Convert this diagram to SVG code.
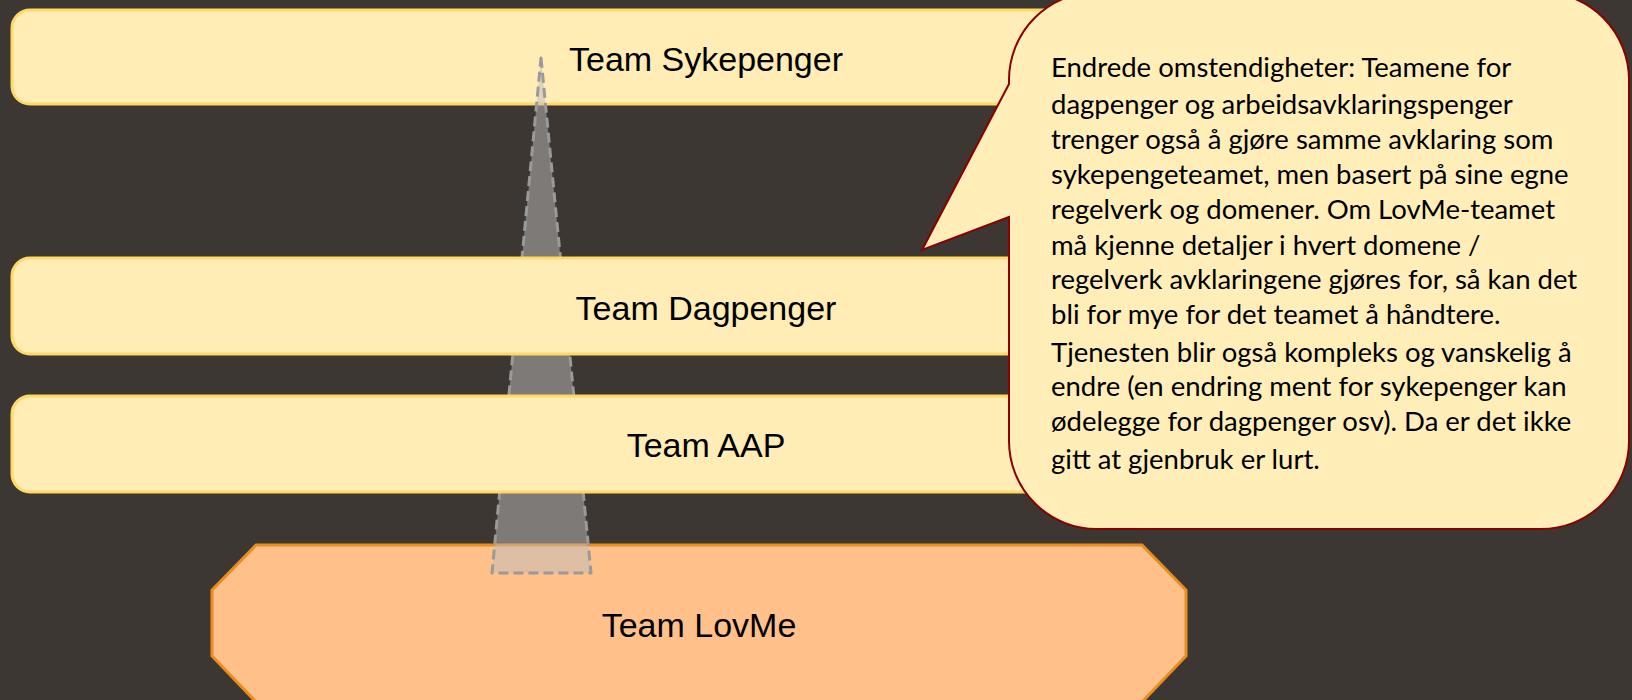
<svg xmlns="http://www.w3.org/2000/svg" width="1632" height="700" viewBox="0 0 1632 700">
  <style>
    .bar { fill: #FFEDB5; stroke: #FFD966; stroke-width: 3; }
    .core { fill: #FFC08A; stroke: #E88D1E; stroke-width: 3; }
    .label { font-family: "Liberation Sans", Arial, sans-serif; font-size: 34px; fill: #000; text-anchor: middle; }
    .reach { fill: #BDBDBD; fill-opacity: 0.5; stroke: #9A9A9A; stroke-width: 3; stroke-dasharray: 10 5; stroke-linejoin: round; }
    .bubble { fill: #FFEEB8; stroke: #8B0000; stroke-width: 2; }
    .note { font-family: Lato, "Open Sans", sans-serif; font-size: 27.5px; fill: #000; }
  </style>

  <rect width="1632" height="700" fill="#3C3732"/>

  <!-- top team, drawn below the reuse wedge -->
  <g id="team-sykepenger">
    <rect class="bar" x="12" y="10" width="1400" height="94" rx="18"/>
    <text class="label" x="706" y="71">Team Sykepenger</text>
  </g>

  <!-- shared rule service at the bottom -->
  <g id="team-lovme">
    <polygon class="core" points="256,545 1142,545 1186,590 1186,656 1142,702 256,702 212,656 212,590"/>
    <text class="label" x="699" y="637">Team LovMe</text>
  </g>

  <!-- reuse wedge from LovMe up to Sykepenger -->
  <g id="connectors">
    <polygon class="reach" points="541,58 591,573 492,573"/>
  </g>

  <g id="team-dagpenger">
    <rect class="bar" x="12" y="258" width="1400" height="96" rx="18"/>
    <text class="label" x="706" y="320">Team Dagpenger</text>
  </g>

  <g id="team-aap">
    <rect class="bar" x="12" y="396" width="1400" height="96" rx="18"/>
    <text class="label" x="706" y="457">Team AAP</text>
  </g>

  <!-- speech bubble with the note -->
  <g id="callout">
    <path class="bubble" d="M1009,84 L922,250 L1009,217 L1009,441 A88,88 0 0 0 1097,529 L1541,529 A88,88 0 0 0 1629,441 L1629,80 A88,88 0 0 0 1541,-8 L1097,-8 A88,88 0 0 0 1009,80 Z"/>
    <text class="note" x="1051">
      <tspan x="1051" y="77">Endrede omstendigheter: Teamene for</tspan>
      <tspan x="1051" y="114">dagpenger og arbeidsavklaringspenger</tspan>
      <tspan x="1051" y="149">trenger også å gjøre samme avklaring som</tspan>
      <tspan x="1051" y="184">sykepengeteamet, men basert på sine egne</tspan>
      <tspan x="1051" y="219">regelverk og domener. Om LovMe-teamet</tspan>
      <tspan x="1051" y="255">må kjenne detaljer i hvert domene /</tspan>
      <tspan x="1051" y="289">regelverk avklaringene gjøres for, så kan det</tspan>
      <tspan x="1051" y="324">bli for mye for det teamet å håndtere.</tspan>
      <tspan x="1051" y="362">Tjenesten blir også kompleks og vanskelig å</tspan>
      <tspan x="1051" y="396">endre (en endring ment for sykepenger kan</tspan>
      <tspan x="1051" y="431">ødelegge for dagpenger osv). Da er det ikke</tspan>
      <tspan x="1051" y="469">gitt at gjenbruk er lurt.</tspan>
    </text>
  </g>
</svg>
